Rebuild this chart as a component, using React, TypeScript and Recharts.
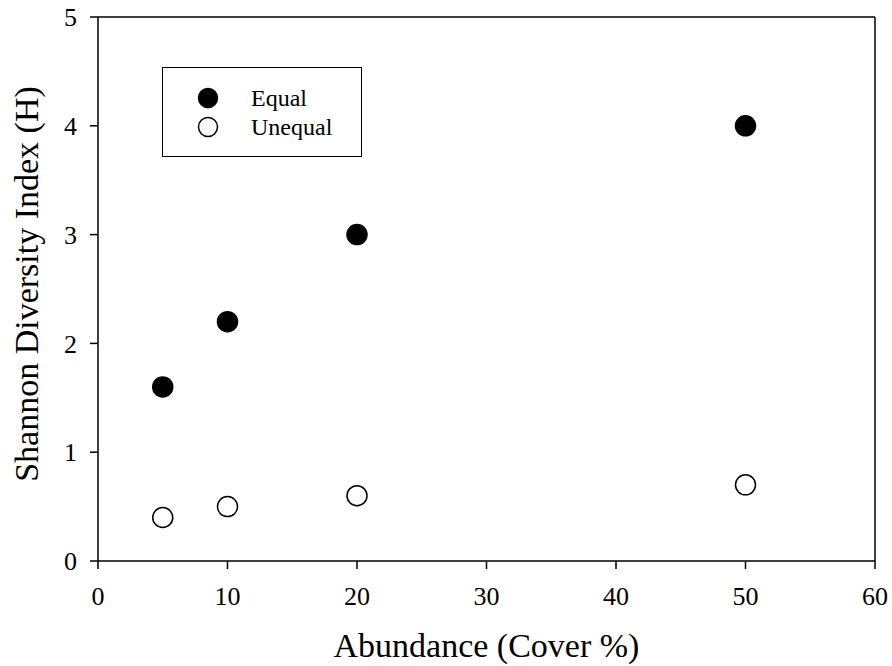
import {
  Label,
  ReferenceLine,
  Scatter,
  ScatterChart,
  XAxis,
  YAxis,
} from "recharts";

const abundance = [5, 10, 20, 50];
const equalH = [1.6, 2.2, 3.0, 4.0];
const unequalH = [0.4, 0.5, 0.6, 0.7];
const xTicks = [0, 10, 20, 30, 40, 50, 60];
const yTicks = [0, 1, 2, 3, 4, 5];

const equalData = abundance.map((x, i) => ({ x, y: equalH[i] }));
const unequalData = abundance.map((x, i) => ({ x, y: unequalH[i] }));

const FONT = '"Liberation Serif", "Times New Roman", serif';

// circle marker, filled or open
const Dot = (fill: string) => (props: any) => (
  <circle cx={props.cx} cy={props.cy} r={10} fill={fill} stroke="#000" strokeWidth={1.5} />
);

// legend box drawn over the plot (a Recharts Legend would steal plot space)
const LegendBox = () => (
  <div
    style={{
      position: "absolute",
      left: 162,
      top: 67,
      width: 200,
      height: 90,
      border: "1.5px solid #000",
      boxSizing: "border-box",
      fontFamily: FONT,
      fontSize: 24,
      background: "#fff",
    }}
  >
    {[
      { name: "Equal", fill: "#000", top: 19 },
      { name: "Unequal", fill: "#fff", top: 48 },
    ].map((item) => (
      <div key={item.name} style={{ position: "absolute", left: 34, top: item.top, display: "flex", alignItems: "center" }}>
        <svg width={22} height={22}>
          <circle cx={11} cy={11} r={9.5} fill={item.fill} stroke="#000" strokeWidth={1.5} />
        </svg>
        <span style={{ marginLeft: 32, lineHeight: "22px", whiteSpace: "nowrap" }}>{item.name}</span>
      </div>
    ))}
  </div>
);

export default function App() {
  return (
    <div style={{ position: "absolute", left: 0, top: 0, width: 892, height: 666, background: "#fff" }}>
      <ScatterChart width={892} height={666} margin={{ top: 17, right: 17, bottom: 45, left: 0 }}>
        <XAxis
          type="number"
          dataKey="x"
          domain={[0, 60]}
          ticks={xTicks}
          height={60}
          axisLine={{ stroke: "#000", strokeWidth: 1.5 }}
          tickLine={{ stroke: "#000", strokeWidth: 1.5 }}
          tickSize={8}
          tickMargin={18}
          tick={{ fill: "#000", fontSize: 26, fontFamily: FONT }}
        >
          <Label
            content={(p: any) => (
              <text
                x={p.viewBox.x + p.viewBox.width / 2}
                y={657}
                textAnchor="middle"
                fontSize={34}
                fontFamily={FONT}
                fill="#000"
              >
                Abundance (Cover %)
              </text>
            )}
          />
        </XAxis>
        <YAxis
          type="number"
          dataKey="y"
          domain={[0, 5]}
          ticks={yTicks}
          width={98}
          axisLine={{ stroke: "#000", strokeWidth: 1.5 }}
          tickLine={{ stroke: "#000", strokeWidth: 1.5 }}
          tickSize={8}
          tickMargin={13}
          tick={{ fill: "#000", fontSize: 26, fontFamily: FONT }}
        >
          <Label
            content={(p: any) => {
              const cy = p.viewBox.y + p.viewBox.height / 2 - 5;
              return (
                <text
                  x={38}
                  y={cy}
                  transform={`rotate(-90, 38, ${cy})`}
                  textAnchor="middle"
                  fontSize={34}
                  fontFamily={FONT}
                  fill="#000"
                >
                  Shannon Diversity Index (H)
                </text>
              );
            }}
          />
        </YAxis>
        <ReferenceLine y={5} stroke="#000" strokeWidth={1.5} />
        <ReferenceLine x={60} stroke="#000" strokeWidth={1.5} />
        <Scatter name="Equal" data={equalData} shape={Dot("#000")} isAnimationActive={false} />
        <Scatter name="Unequal" data={unequalData} shape={Dot("#fff")} isAnimationActive={false} />
      </ScatterChart>
      <LegendBox />
    </div>
  );
}
